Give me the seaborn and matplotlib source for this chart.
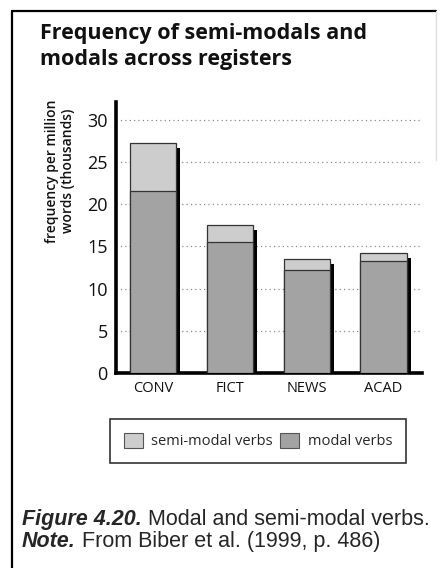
import matplotlib
matplotlib.use("Agg")
import matplotlib.pyplot as plt
import matplotlib.transforms as mtransforms
from matplotlib.patches import Patch
from matplotlib.lines import Line2D
import numpy as np
import pandas as pd
import seaborn as sns

# Frequency per million words (thousands), by register
registers = ["CONV", "FICT", "NEWS", "ACAD"]
modal_verbs = [21.5, 15.5, 12.2, 13.3]
semi_modal_verbs = [5.8, 2.0, 1.3, 0.9]
y_ticks = [0, 5, 10, 15, 20, 25, 30]

df = pd.DataFrame({
    "register": registers,
    "modal": modal_verbs,
    "semi": semi_modal_verbs,
})
df["total"] = df["modal"] + df["semi"]

sns.set_theme(style="white")
plt.rcParams["font.family"] = ["Open Sans", "DejaVu Sans"]

SEMI_COLOR = "#cdcdcd"
MODAL_COLOR = "#a3a3a3"
EDGE = "#333333"
INK = "#111111"

fig = plt.figure(figsize=(4.45, 5.68), dpi=100)
W, H = 445, 568
ax = fig.add_axes([116 / W, 1 - 373 / H, (422 - 116) / W, (373 - 102) / H])

# drop shadow behind each stacked bar
sns.barplot(data=df, x="register", y="total", color="black", width=0.6,
            saturation=1, linewidth=0, ax=ax, zorder=1)
shadow_offset = mtransforms.ScaledTranslation(4 / 100, -5 / 100, fig.dpi_scale_trans)
for p in list(ax.patches):
    p.set_transform(ax.transData + shadow_offset)

# semi-modal on top of modal (stacked)
sns.barplot(data=df, x="register", y="total", color=SEMI_COLOR, width=0.6,
            saturation=1, edgecolor=EDGE, linewidth=0.9, ax=ax, zorder=2)
sns.barplot(data=df, x="register", y="modal", color=MODAL_COLOR, width=0.6,
            saturation=1, edgecolor=EDGE, linewidth=0.9, ax=ax, zorder=3)

ax.set_xlim(-0.48, 3.5)
ax.set_ylim(0, 32.1)
ax.set_yticks(y_ticks)
ax.set_yticklabels([str(t) for t in y_ticks], fontsize=13, color=INK)
ax.set_xticks(range(len(registers)))
ax.set_xticklabels(registers, fontsize=10.5, color=INK)
ax.tick_params(axis="both", length=0)
ax.tick_params(axis="y", pad=6)
ax.tick_params(axis="x", pad=6)
ax.set_xlabel("")
ax.set_ylabel("")

ax.yaxis.grid(True, linestyle=(0, (1, 2.5)), color="#8a8a8a", linewidth=0.9)
ax.set_axisbelow(True)
for side in ("top", "right"):
    ax.spines[side].set_visible(False)
for side in ("left", "bottom"):
    ax.spines[side].set_color("black")
    ax.spines[side].set_linewidth(2.6)

# y axis title
fig.text(60 / W, 1 - 171 / H, "frequency per million\nwords (thousands)",
         rotation=90, ha="center", va="center", fontsize=10,
         fontweight="semibold", linespacing=1.1, color=INK)

# chart title
fig.text(40 / W, 1 - 39 / H, "Frequency of semi-modals and",
         ha="left", va="baseline", fontsize=15.5, fontweight="bold", color=INK)
fig.text(40 / W, 1 - 65 / H, "modals across registers",
         ha="left", va="baseline", fontsize=15.5, fontweight="bold", color=INK)

# legend
handles = [Patch(facecolor=SEMI_COLOR, edgecolor="#555555", linewidth=0.8),
           Patch(facecolor=MODAL_COLOR, edgecolor="#555555", linewidth=0.8)]
leg = fig.legend(handles, ["semi-modal verbs", "modal verbs"], ncol=2,
                 loc="center", bbox_to_anchor=(258 / W, 1 - 441 / H),
                 fontsize=10.5, frameon=True, fancybox=False,
                 edgecolor="black", handlelength=1.3, handleheight=1.3,
                 handletextpad=0.6, columnspacing=0.5, borderpad=0.9)
leg.get_frame().set_linewidth(1.2)

# outer frame (left and top rules)
fig.add_artist(Line2D([12 / W, 12 / W], [0, 1 - 11 / H], color="black",
                      linewidth=1.6, transform=fig.transFigure))
fig.add_artist(Line2D([12 / W, 436 / W], [1 - 11 / H, 1 - 11 / H], color="black",
                      linewidth=1.6, transform=fig.transFigure))
fig.add_artist(Line2D([436 / W, 436 / W], [1 - 11 / H, 1 - 160 / H], color="#dddddd",
                      linewidth=1.0, transform=fig.transFigure))

# caption
cap_font = ["Liberation Sans", "DejaVu Sans"]
t1 = fig.text(22 / W, 1 - 525 / H, "Figure 4.20.", ha="left", va="baseline",
              fontsize=15.5, fontweight="bold", fontstyle="italic", family=cap_font)
ax.annotate(" Modal and semi-modal verbs.", xy=(1, 0), xycoords=t1,
            ha="left", va="bottom", fontsize=15.5, family=cap_font,
            annotation_clip=False)
t2 = fig.text(22 / W, 1 - 547 / H, "Note.", ha="left", va="baseline",
              fontsize=15.5, fontweight="bold", fontstyle="italic", family=cap_font)
ax.annotate(" From Biber et al. (1999, p. 486)", xy=(1, 0), xycoords=t2,
            ha="left", va="bottom", fontsize=15.5, family=cap_font,
            annotation_clip=False)

fig.savefig("out.png", dpi=100)
